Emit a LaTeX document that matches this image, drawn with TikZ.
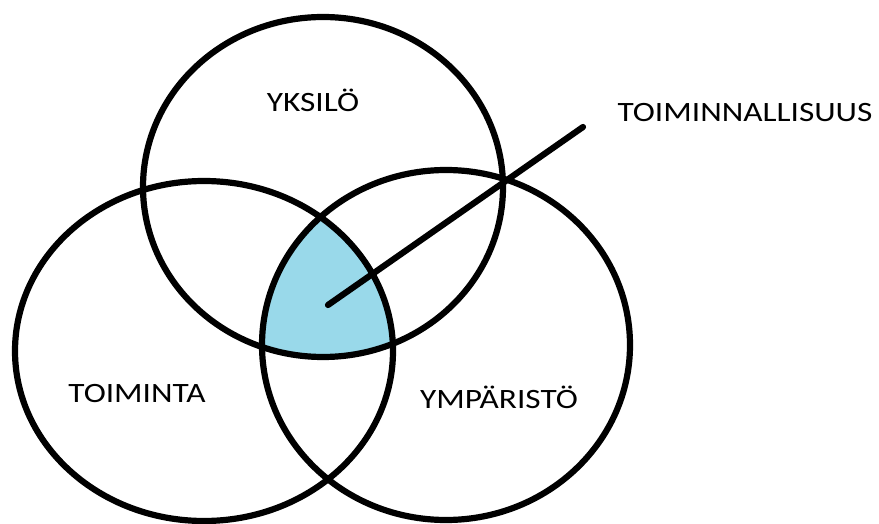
\documentclass[tikz,border=0pt]{standalone}
\usepackage{fontspec}
\setmainfont{Carlito}
\usetikzlibrary{positioning}
\definecolor{paleblue}{RGB}{153,217,234}
\newcommand{\vennword}[1]{\scalebox{1.19}[1]{#1}}

\begin{document}
\begin{tikzpicture}[x=1pt,y=1pt,
    ring/.style={line width=6.2pt},
    word/.style={font=\fontsize{28}{30}\selectfont, anchor=base, inner sep=0pt}]
    \useasboundingbox (0,0) rectangle (879,523);

    % common part of all three
    \begin{scope}
        \clip (323,336) ellipse [x radius=180, y radius=170];
        \clip (204,172) ellipse [x radius=189, y radius=170];
        \fill[paleblue] (446,178) ellipse [x radius=184, y radius=175];
    \end{scope}

    \draw[ring] (323,336) ellipse [x radius=180, y radius=170];
    \draw[ring] (204,172) ellipse [x radius=189, y radius=170];
    \draw[ring] (446,178) ellipse [x radius=184, y radius=175];

    \node[word] (yksilo) at (313,411) {\vennword{YKSILÖ}};
    \node[word] (toiminta) at (137,121) {\vennword{TOIMINTA}};
    \node[word] (ymparisto) at (499,115) {\vennword{YMPÄRISTÖ}};
    \node[word] (toim) at (745,401) {\vennword{TOIMINNALLISUUS}};

    \coordinate (core) at (328,218);
    \coordinate (tip) at (583,396);
    \draw[ring, line cap=round] (core) -- (tip);
\end{tikzpicture}
\end{document}
